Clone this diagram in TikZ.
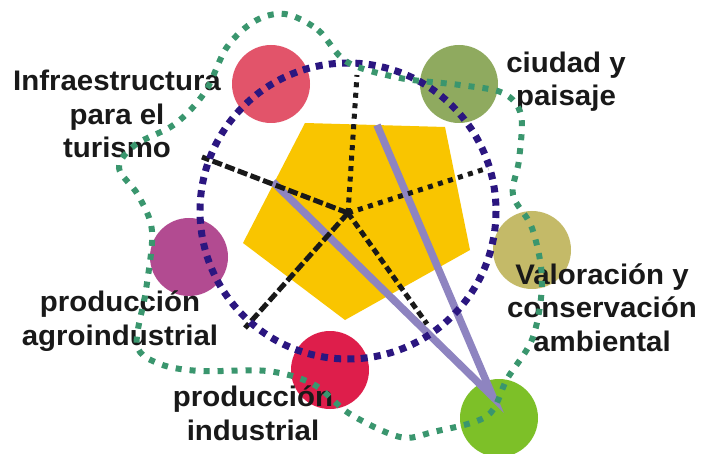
\documentclass[tikz,border=0pt]{standalone}
\usepackage{fontspec}
\setmainfont{Liberation Sans}[FakeStretch=1.04]
\definecolor{cInfra}{RGB}{226,84,106}
\definecolor{cCiudad}{RGB}{143,170,95}
\definecolor{cValor}{RGB}{196,186,104}
\definecolor{cAgro}{RGB}{178,75,145}
\definecolor{cInd}{RGB}{222,30,75}
\definecolor{cGreen}{RGB}{125,192,40}
\definecolor{cYellow}{RGB}{249,197,0}
\definecolor{cLav}{RGB}{142,132,192}
\definecolor{cNavy}{RGB}{43,22,128}
\definecolor{cGdot}{RGB}{58,150,110}
\tikzset{
  ball/.style={circle,inner sep=0pt,minimum size=78pt},
  lbl/.style={align=center,anchor=base,font=\fontsize{28.3}{33.5}\selectfont\bfseries,text=black!90,inner sep=0pt},
  lavline/.style={draw=cLav,line width=7.5pt},
  blkdot/.style={draw=black!90,line width=5pt,dash pattern=on 5pt off 5.5pt},
  blkdash/.style={draw=black!90,line width=5pt,dash pattern=on 10pt off 3.5pt},
  blkmid/.style={draw=black!90,line width=5pt,dash pattern=on 7pt off 4pt},
  navydots/.style={draw=cNavy,line width=7pt,dash pattern=on 7pt off 6.3pt},
  greendots/.style={draw=cGdot,line width=6pt,dash pattern=on 6pt off 8pt},
}
\begin{document}
\begin{tikzpicture}[x=1pt,y=-1pt]
\useasboundingbox (0,0) rectangle (701,454);
\fill[white] (0,0) rectangle (701,454);
% pentagon
\fill[cYellow] (305,123) -- (445,127) -- (470,250) -- (345,320) -- (243,243) -- cycle;
% circles
\node[ball,fill=cInfra] (infra) at (271,84) {};
\node[ball,fill=cCiudad] (ciudad) at (459,84) {};
\node[ball,fill=cValor] (valor) at (532,250) {};
\node[ball,fill=cAgro] (agro) at (189,257) {};
\node[ball,fill=cInd] (ind) at (330,370) {};
\node[ball,fill=cGreen] (verde) at (499,418) {};
% coordinates
\coordinate (c) at (348,213);
\coordinate (apex) at (493,397);
\coordinate (lavA) at (273,182);
\coordinate (lavB) at (377,125);
\coordinate (sUL) at (202,157);
\coordinate (sT) at (357,75);
\coordinate (sR) at (488,168);
\coordinate (sLR) at (427,324);
\coordinate (sLL) at (245,328);
% lavender V
\draw[lavline,line join=miter] (lavA) -- (apex) -- (lavB);
% black star
\draw[blkdash] (c) -- (sUL);
\draw[blkdot] (c) -- (sT);
\draw[blkdot] (c) -- (sR);
\draw[blkmid] (c) -- (sLR);
\draw[blkdash] (c) -- (sLL);
% navy dotted circle
\draw[navydots] (348,211) circle[radius=148];
% labels (anchor base = baseline of last line)
\node[lbl] (tInfra) at (117,158) {Infraestructura\\para el\\turismo};
\node[lbl] (tCiudad) at (566,106) {ciudad y\\paisaje};
\node[lbl] (tValor) at (602,351) {Valoración y\\conservación\\ambiental};
\node[lbl] (tAgro) at (120,345) {producción\\agroindustrial};
\node[lbl] (tInd) at (253,440) {producción\\industrial};
% green dotted contour
\draw[greendots] plot[smooth cycle,tension=0.55] coordinates {
(285,14) (318,30) (347,62) (400,78) (460,85) (503,93) (521,115) (519,160)
(513,195) (532,228) (542,280) (533,337) (507,379) (487,416) (433,432) (400,437)
(350,414) (313,384) (267,371) (200,371) (160,364) (137,345) (146,290) (152,231)
(138,195) (119,168) (135,145) (175,124) (205,92) (227,47) (255,21)};
\end{tikzpicture}
\end{document}
